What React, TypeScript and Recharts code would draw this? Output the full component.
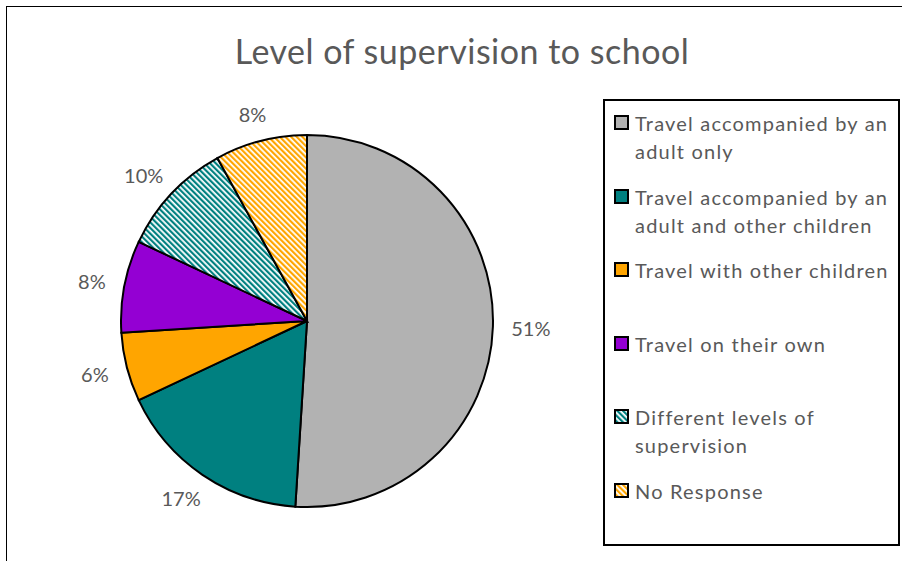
import { PieChart, Pie, Cell, Legend } from 'recharts';

const categories = [
  'Travel accompanied by an adult only',
  'Travel accompanied by an adult and other children',
  'Travel with other children',
  'Travel on their own',
  'Different levels of supervision',
  'No Response',
];
const shares = [51, 17, 6, 8, 10, 8];
const fills = ['#B2B2B2', '#008080', '#FFA500', '#9400D3', 'url(#hatchTeal)', 'url(#hatchOrange)'];

const data = categories.map((name, i) => ({ name, value: shares[i], fill: fills[i] }));

const FONT = 'Lato, "Open Sans", sans-serif';
const INK = '#595959';
const RAD = Math.PI / 180;

function SliceLabel(p: any) {
  const { cx, cy, midAngle, outerRadius, value } = p;
  const r = outerRadius + 18;
  const c = Math.cos(-midAngle * RAD);
  const s = Math.sin(-midAngle * RAD);
  const txt = `${value}%`;
  const halfW = txt.length > 2 ? 20 : 15;
  const x = cx + r * c + halfW * c;
  const y = cy + r * s + 10 * s;
  return (
    <text x={x} y={y} textAnchor="middle" dominantBaseline="central" fill={INK} fontSize={20} fontFamily={FONT}>
      {txt}
    </text>
  );
}

// legend keeps the data order (recharts would sort payload by name)
function LegendBox() {
  return (
    <div style={{ width: 293, height: 435, border: '2px solid #000', background: '#fff', boxSizing: 'content-box', paddingTop: 8 }}>
      {data.map((d, i) => (
        <div key={i} style={{ height: 73.5, display: 'flex', alignItems: 'flex-start' }}>
          <svg width={16} height={16} style={{ marginLeft: 9, marginTop: 6, flex: 'none' }}>
            <rect x={1} y={1} width={13} height={13} fill={d.fill} stroke="#000" strokeWidth={2} />
          </svg>
          <div style={{ marginLeft: 5, width: 262, fontFamily: FONT, fontSize: 20, letterSpacing: 1.2, lineHeight: '28px', color: INK }}>
            {d.name}
          </div>
        </div>
      ))}
    </div>
  );
}

export default function App() {
  return (
    <div style={{ position: 'absolute', left: 0, top: 0, width: 902, height: 561, overflow: 'hidden', background: '#fff' }}>
      <svg width={0} height={0} style={{ position: 'absolute' }}>
        <defs>
          <pattern id="hatchTeal" width={4} height={4} patternUnits="userSpaceOnUse" patternTransform="rotate(-45)">
            <rect width={4} height={4} fill="#fff" />
            <rect width={2.2} height={4} fill="#008080" />
          </pattern>
          <pattern id="hatchOrange" width={4} height={4} patternUnits="userSpaceOnUse" patternTransform="rotate(-45)">
            <rect width={4} height={4} fill="#fff" />
            <rect width={2.2} height={4} fill="#FFA500" />
          </pattern>
        </defs>
      </svg>
      <div style={{ position: 'absolute', left: 6, top: 6, width: 960, height: 620, borderTop: '1px solid #000', borderLeft: '1px solid #000' }} />
      <div style={{ position: 'absolute', left: 0, top: 29, width: 924, textAlign: 'center', fontFamily: FONT, fontSize: 34, letterSpacing: 0.5, color: INK, lineHeight: '44px' }}>
        Level of supervision to school
      </div>
      <div style={{ position: 'absolute', left: 0, top: 0 }}>
        <PieChart width={902} height={561} margin={{ top: 0, right: 0, bottom: 0, left: 0 }}>
          <Pie
            data={data}
            dataKey="value"
            nameKey="name"
            cx={307}
            cy={321}
            outerRadius={186}
            startAngle={90}
            endAngle={-270}
            stroke="#000"
            strokeWidth={2}
            label={SliceLabel}
            labelLine={false}
            isAnimationActive={false}
          >
            {data.map((d, i) => (
              <Cell key={i} fill={d.fill} />
            ))}
          </Pie>
          <Legend
            content={<LegendBox />}
            layout="vertical"
            wrapperStyle={{ position: 'absolute', left: 603, top: 99, width: 297 }}
          />
        </PieChart>
      </div>
    </div>
  );
}
